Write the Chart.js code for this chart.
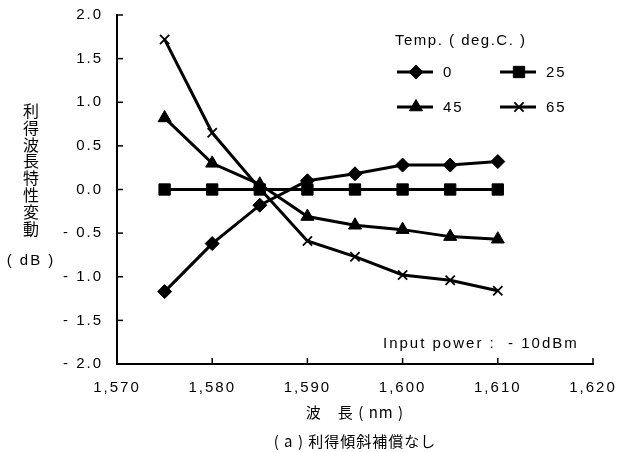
<!DOCTYPE html>
<html><head><meta charset="utf-8">
<script src="https://cdn.jsdelivr.net/npm/chart.js@4/dist/chart.umd.min.js"></script>
<style>html,body{margin:0;padding:0;background:#fff}#wrap{width:630px;height:452px}</style>
</head><body><div id="wrap"><canvas id="c" width="630" height="452"></canvas></div>
<script>
const wavelengths = [1575, 1580, 1585, 1590, 1595, 1600, 1605, 1610];
const temp0  = [-1.17, -0.62, -0.18, 0.10, 0.18, 0.28, 0.28, 0.32];
const temp25 = [0, 0, 0, 0, 0, 0, 0, 0];
const temp45 = [0.82, 0.30, 0.06, -0.31, -0.41, -0.46, -0.54, -0.57];
const temp65 = [1.72, 0.65, 0.01, -0.59, -0.77, -0.98, -1.04, -1.16];
const seriesLabels = ['0', '25', '45', '65'];
const xTickValues = [1570, 1580, 1590, 1600, 1610, 1620];
const yTickValues = [-2, -1.5, -1, -0.5, 0, 0.5, 1, 1.5, 2];
const legendTitle = 'Temp. ( deg.C. )';
const yTitleChars = '利得波長特性変動';
const yTitleUnit = '( dB )';
const xTitle = '波　長 ( nm )';
const caption = '( a ) 利得傾斜補償なし';
const note = 'Input power :  - 10dBm';

const FONT = '"Liberation Sans", Arial, "Noto Sans CJK JP", sans-serif';
const CJK = '"Noto Sans CJK JP", "Liberation Sans", sans-serif';

const styles = [
  {pointStyle: 'rectRot', pointRadius: 7, pointBorderWidth: 1},
  {pointStyle: 'rect', pointRadius: 8, pointBorderWidth: 1},
  {pointStyle: 'triangle', pointRadius: 7.5, pointBorderWidth: 1},
  {pointStyle: 'crossRot', pointRadius: 6.5, pointBorderWidth: 1.8}
];
const seriesData = [temp0, temp25, temp45, temp65];

const datasets = seriesData.map((arr, i) => Object.assign({
  label: seriesLabels[i],
  data: arr.map((v, k) => ({x: wavelengths[k], y: v})),
  borderColor: '#000',
  backgroundColor: '#000',
  pointBackgroundColor: '#000',
  pointBorderColor: '#000',
  borderWidth: 3,
  tension: 0
}, styles[i]));

const deco = {
  id: 'deco',
  beforeDraw(chart) { chart.ctx.letterSpacing = '2px'; },
  beforeDatasetsDraw(chart) {
    const {ctx, chartArea: a, scales: {x, y}} = chart;
    ctx.save();
    ctx.strokeStyle = '#000';
    ctx.lineWidth = 1.5;
    y.ticks.forEach(t => {
      const p = y.getPixelForValue(t.value);
      ctx.beginPath(); ctx.moveTo(a.left, p); ctx.lineTo(a.left + 6, p); ctx.stroke();
    });
    x.ticks.forEach(t => {
      const p = x.getPixelForValue(t.value);
      ctx.beginPath(); ctx.moveTo(p, a.bottom); ctx.lineTo(p, a.bottom - 6); ctx.stroke();
    });
    ctx.restore();
  },
  afterDraw(chart) {
    const {ctx, chartArea: a} = chart;
    ctx.save();
    ctx.fillStyle = '#000';
    ctx.strokeStyle = '#000';
    ctx.textBaseline = 'middle';
    // legend
    ctx.letterSpacing = '1.5px';
    ctx.font = '15px ' + FONT;
    ctx.textAlign = 'left';
    ctx.fillText(legendTitle, 395, 41);
    ctx.letterSpacing = '2px';
    chart.data.datasets.forEach((ds, i) => {
      const col = i % 2, row = Math.floor(i / 2);
      const x0 = 397 + col * 103, y0 = 72 + row * 35;
      ctx.lineWidth = 3;
      ctx.beginPath(); ctx.moveTo(x0, y0); ctx.lineTo(x0 + 36, y0); ctx.stroke();
      ctx.lineWidth = ds.pointBorderWidth;
      Chart.helpers.drawPoint(ctx, {pointStyle: ds.pointStyle, radius: ds.pointRadius, rotation: 0, borderWidth: ds.pointBorderWidth}, x0 + 19, y0);
      ctx.fillText(ds.label, x0 + 46, y0 + 1);
    });
    // note
    ctx.font = '15px ' + FONT;
    ctx.fillText(note, 383, 344);
    // y title
    ctx.textAlign = 'center';
    ctx.letterSpacing = '0px';
    ctx.font = '16px ' + CJK;
    [...yTitleChars].forEach((ch, k) => ctx.fillText(ch, 31, 111 + k * 16.8));
    ctx.letterSpacing = '2px';
    ctx.font = '15px ' + FONT;
    ctx.fillText(yTitleUnit, 31, 261);
    // x title & caption
    const cx = (a.left + a.right) / 2;
    ctx.font = '15px ' + CJK;
    ctx.letterSpacing = '1px';
    ctx.fillText(xTitle, cx, 412);
    ctx.fillText(caption, cx, 441);
    ctx.restore();
  }
};

new Chart(document.getElementById('c'), {
  type: 'line',
  data: {datasets},
  plugins: [deco],
  options: {
    responsive: false,
    animation: false,
    layout: {padding: {top: 15, right: 37, left: 0, bottom: 0}},
    plugins: {legend: {display: false}, tooltip: {enabled: false}},
    scales: {
      x: {
        type: 'linear', min: 1570, max: 1620,
        afterBuildTicks: s => { s.ticks = xTickValues.map(v => ({value: v})); },
        afterFit: s => { s.height = 88; s.paddingLeft = 0; s.paddingRight = 0; },
        grid: {display: true, drawOnChartArea: false, drawTicks: false},
        border: {display: true, color: '#000', width: 2},
        ticks: {
          color: '#000', padding: 15, maxRotation: 0, autoSkip: false,
          font: {family: FONT, size: 15},
          callback: v => v.toLocaleString('en-US')
        }
      },
      y: {
        type: 'linear', min: -2, max: 2,
        afterBuildTicks: s => { s.ticks = yTickValues.map(v => ({value: v})); },
        afterFit: s => { s.width = 117; s.paddingTop = 0; s.paddingBottom = 0; },
        grid: {display: true, drawOnChartArea: false, drawTicks: false},
        border: {display: true, color: '#000', width: 2},
        ticks: {
          color: '#000', padding: 14, autoSkip: false,
          font: {family: FONT, size: 15},
          callback: v => (v < 0 ? '- ' + Math.abs(v).toFixed(1) : v.toFixed(1))
        }
      }
    }
  }
});
</script>
</body></html>
